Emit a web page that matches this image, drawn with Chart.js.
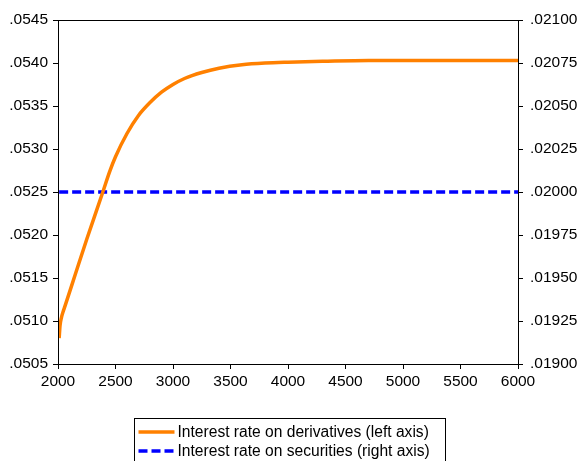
<!DOCTYPE html>
<html>
<head>
<meta charset="utf-8">
<script src="https://cdn.jsdelivr.net/npm/chart.js@4/dist/chart.umd.min.js"></script>
<style>
  html, body { margin: 0; padding: 0; background: #ffffff; }
  #wrap { width: 580px; height: 461px; }
</style>
</head>
<body>
<div id="wrap"><canvas id="c" width="580" height="461"></canvas></div>
<script>
// Horizon (x values)
const derivX = [2010, 2018, 2030, 2045, 2060, 2150, 2250, 2390, 2450, 2500, 2600, 2700, 2800, 2900, 3000, 3100, 3250, 3400, 3600, 3800, 4000, 4300, 4700, 5500, 6000];
// Interest rate on derivatives (left axis)
const derivRate = [.05080, .05095, .05104, .05111, .05117, .05154, .05195, .05250, .05274, .05291, .05318, .05339, .05354, .05366, .05375, .05382, .05389, .05394, .05398, .05400, .05401, .05402, .05403, .05403, .05403];
// Interest rate on securities (right axis)
const secX = [2010, 6000];
const secRate = [.02000, .02000];

const leftTicks = [.0505, .0510, .0515, .0520, .0525, .0530, .0535, .0540, .0545];
const rightTicks = [.01900, .01925, .01950, .01975, .02000, .02025, .02050, .02075, .02100];
const xTicks = [2000, 2500, 3000, 3500, 4000, 4500, 5000, 5500, 6000];

const seriesNames = ['Interest rate on derivatives (left axis)', 'Interest rate on securities (right axis)'];
const ORANGE = '#ff8000';
const BLUE = '#0000ff';
const FONT = "'Liberation Sans', Arial, sans-serif";
const FONT_SIZE = 15.5;

const toPts = (xs, ys) => xs.map((x, i) => ({ x: x, y: ys[i] }));
const fmtDot = (v, d) => v.toFixed(d).replace(/^0/, '');

// Frame around the plot area plus a boxed legend beneath it
const framePlugin = {
  id: 'frameAndLegend',
  afterDraw(chart) {
    const ctx = chart.ctx;
    const a = chart.chartArea;
    ctx.save();
    ctx.strokeStyle = '#000';
    ctx.lineWidth = 1;
    ctx.strokeRect(Math.round(a.left) + 0.5, Math.round(a.top) + 0.5,
                   Math.round(a.right - a.left), Math.round(a.bottom - a.top));

    // legend
    ctx.font = '15.6px ' + FONT;
    const sample = 36, gap = 3, padL = 4;
    const w = 311;
    const x0 = Math.round(chart.width / 2 - w / 2) - 1 + 0.5;
    const y0 = 418.5;
    const rowH = 19;
    ctx.strokeStyle = '#000';
    ctx.lineWidth = 1;
    ctx.strokeRect(x0, y0, w, 2 * rowH + 6);
    chart.data.datasets.forEach((ds, i) => {
      const yc = y0 + 13.5 + i * rowH;
      ctx.beginPath();
      ctx.strokeStyle = ds.borderColor;
      ctx.lineWidth = 3.5;
      ctx.setLineDash(ds.borderDash || []);
      ctx.moveTo(x0 + padL, yc);
      ctx.lineTo(x0 + padL + sample, yc);
      ctx.stroke();
      ctx.setLineDash([]);
      ctx.fillStyle = '#000';
      ctx.textAlign = 'left';
      ctx.textBaseline = 'middle';
      ctx.fillText(ds.label, x0 + padL + sample + gap, yc + 1);
    });
    ctx.restore();
  }
};

new Chart(document.getElementById('c'), {
  type: 'line',
  data: {
    datasets: [
      {
        label: seriesNames[0],
        data: toPts(derivX, derivRate),
        yAxisID: 'yL',
        borderColor: ORANGE,
        borderWidth: 3.5,
        pointRadius: 0,
        cubicInterpolationMode: 'monotone',
        fill: false
      },
      {
        label: seriesNames[1],
        data: toPts(secX, secRate),
        yAxisID: 'yR',
        borderColor: BLUE,
        borderWidth: 3.5,
        borderDash: [9, 4],
        pointRadius: 0,
        fill: false
      }
    ]
  },
  options: {
    responsive: false,
    animation: false,
    layout: { padding: { top: 20, left: 0, right: 0, bottom: 0 } },
    plugins: { legend: { display: false }, tooltip: { enabled: false } },
    scales: {
      x: {
        type: 'linear',
        min: 2000, max: 6000,
        afterBuildTicks: s => { s.ticks = xTicks.map(v => ({ value: v })); },
        afterFit: s => { s.height = 97; },
        grid: { drawOnChartArea: false, drawTicks: true, tickLength: 5, color: '#000' },
        border: { color: '#000' },
        ticks: { color: '#000', font: { family: FONT, size: FONT_SIZE }, padding: 3, maxRotation: 0,
                 callback: v => String(v) }
      },
      yL: {
        position: 'left',
        min: .0505, max: .0545,
        afterBuildTicks: s => { s.ticks = leftTicks.map(v => ({ value: v })); },
        afterFit: s => { s.width = 58; },
        grid: { drawOnChartArea: false, drawTicks: true, tickLength: 5, color: '#000' },
        border: { color: '#000' },
        ticks: { color: '#000', font: { family: FONT, size: FONT_SIZE }, padding: 5,
                 callback: v => fmtDot(v, 4) }
      },
      yR: {
        position: 'right',
        min: .01900, max: .02100,
        afterBuildTicks: s => { s.ticks = rightTicks.map(v => ({ value: v })); },
        afterFit: s => { s.width = 62; },
        grid: { drawOnChartArea: false, drawTicks: true, tickLength: 5, color: '#000' },
        border: { color: '#000' },
        ticks: { color: '#000', font: { family: FONT, size: FONT_SIZE }, padding: 7,
                 callback: v => fmtDot(v, 5) }
      }
    }
  },
  plugins: [framePlugin]
});
</script>
</body>
</html>
